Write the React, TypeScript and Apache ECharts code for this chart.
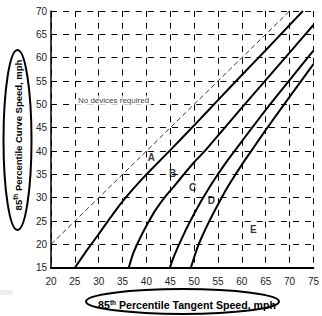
import React, { useEffect, useRef } from "react";
import * as echarts from "echarts";

const diagonal = [[20, 20], [70, 70]];
const curveA = [[25, 15], [27.5, 18.7], [30, 22.2], [32.5, 25.8], [35, 29.2], [37.5, 32.2], [40, 35], [42.5, 37.6], [45, 40.2], [50, 45.5], [55, 50.9], [60, 56.3], [65, 61.6], [70, 67], [72.8, 70]];
const curveB = [[36.3, 15], [37.2, 18], [38.5, 21], [40, 24], [42, 27.5], [44, 30.3], [46, 32.7], [48, 35.2], [50, 37.6], [52.5, 40.3], [55, 43.3], [60, 49.3], [65, 55.2], [70, 61.1], [75, 67]];
const curveC = [[44.9, 15], [45.6, 17], [46.4, 19], [47.3, 21], [48.3, 23.2], [49.4, 25.4], [50.6, 27.7], [52, 30.2], [53.5, 32.7], [55.1, 35.2], [57, 38], [59.2, 41], [62, 44.8], [65, 48.8], [70, 55.2], [75, 61.5]];
const curveD = [[49.3, 15], [50, 17.2], [50.8, 19.6], [51.8, 22], [53, 24.6], [54.3, 27.2], [55.7, 29.9], [57.2, 32.6], [58.8, 35.2], [60.6, 38], [62.5, 40.8], [65, 44.5], [70, 51.6], [75, 58.6]];
const zoneLabels = ["A", "B", "C", "D", "E"];
const zoneLabelPos = [[41.05, 38.7], [45.5, 35.2], [49.7, 32.2], [53.6, 29.5], [62.4, 23.2]];
const noteText = "No devices required";
const notePos = [33.1, 50.8];
const xName = ["85", "th", " Percentile Tangent Speed, mph"];
const yName = ["85", "th", " Percentile Curve Speed, mph"];

const FONT = 'Arial, "Liberation Sans", sans-serif';

export default function App() {
  const ref = useRef<HTMLDivElement>(null);
  useEffect(() => {
    if (!ref.current) return;
    const chart = echarts.init(ref.current, null, { renderer: "svg" });
    const curveStyle = { color: "#000", width: 2 };
    const mkCurve = (name: string, data: number[][]) => ({
      name,
      type: "line",
      data,
      smooth: 0.15,
      showSymbol: false,
      symbol: "none",
      lineStyle: curveStyle,
      clip: true,
      z: 5,
    });
    const rich = (size: number) => ({
      n: { fontSize: size, fontWeight: "bold", fontFamily: FONT, color: "#000", lineHeight: 13 },
      s: { fontSize: 6.5, fontWeight: "bold", fontFamily: FONT, color: "#000", verticalAlign: "top" },
    });
    chart.setOption({
      animation: false,
      backgroundColor: "#fff",
      grid: { left: 51, top: 11, width: 265.5, height: 256.7 },
      xAxis: {
        type: "value",
        min: 20,
        max: 75,
        interval: 5,
        axisLine: { show: true, onZero: false, lineStyle: { color: "#000", width: 2 } },
        axisTick: { show: false },
        axisLabel: { fontSize: 10, fontFamily: FONT, color: "#222", margin: 9 },
        splitLine: { show: true, lineStyle: { color: "#000", width: 1, type: [6, 5.7], dashOffset: 0 } },
      },
      yAxis: {
        type: "value",
        min: 15,
        max: 70,
        interval: 5,
        axisLine: { show: true, onZero: false, lineStyle: { color: "#000", width: 1.5 } },
        axisTick: { show: false },
        axisLabel: { fontSize: 10, fontFamily: FONT, color: "#222", margin: 4 },
        splitLine: { show: true, lineStyle: { color: "#000", width: 1, type: [6, 6.1], dashOffset: 0 } },
      },
      series: [
        {
          name: "diag",
          type: "line",
          data: diagonal,
          showSymbol: false,
          symbol: "none",
          lineStyle: { color: "#000", width: 0.8, type: [5, 3] },
          z: 4,
        },
        mkCurve("A", curveA),
        mkCurve("B", curveB),
        mkCurve("C", curveC),
        mkCurve("D", curveD),
        {
          name: "labels",
          type: "scatter",
          symbolSize: 0,
          data: zoneLabels.map((n, i) => ({ name: n, value: zoneLabelPos[i] })),
          label: {
            show: true,
            position: "inside",
            formatter: "{b}",
            fontSize: 10,
            fontWeight: "bold",
            fontFamily: FONT,
            color: "#000",
          },
          z: 6,
        },
        {
          name: "note",
          type: "scatter",
          symbolSize: 0,
          data: [{ name: noteText, value: notePos }],
          label: {
            show: true,
            position: "inside",
            formatter: "{b}",
            fontSize: 8,
            fontFamily: FONT,
            color: "#000",
            backgroundColor: "#fff",
            padding: [1, 2],
          },
          z: 6,
        },
      ],
      graphic: [
        {
          type: "rect",
          shape: { x: 0, y: 290, width: 13, height: 5 },
          style: { fill: "#eeeeee" },
        },
        {
          type: "ellipse",
          shape: { cx: 17.5, cy: 140, rx: 14, ry: 90 },
          style: { fill: "none", stroke: "#000", lineWidth: 2 },
        },
        {
          type: "text",
          x: 18,
          y: 135,
          rotation: Math.PI / 2,
          style: {
            text: `{n|${yName[0]}}{s|${yName[1]}}{n|${yName[2]}}`,
            rich: rich(9.5),
            align: "center",
            verticalAlign: "middle",
          },
        },
        {
          type: "ellipse",
          shape: { cx: 182.5, cy: 301.5, rx: 96.5, ry: 12.5 },
          style: { fill: "none", stroke: "#000", lineWidth: 2 },
        },
        {
          type: "text",
          x: 187,
          y: 305,
          style: {
            text: `{n|${xName[0]}}{s|${xName[1]}}{n|${xName[2]}}`,
            rich: rich(10.6),
            align: "center",
            verticalAlign: "middle",
          },
        },
      ],
    });
    return () => chart.dispose();
  }, []);
  return (
    <div
      ref={ref}
      style={{ position: "fixed", left: 0, top: 0, width: 322, height: 316, background: "#fff" }}
    />
  );
}
